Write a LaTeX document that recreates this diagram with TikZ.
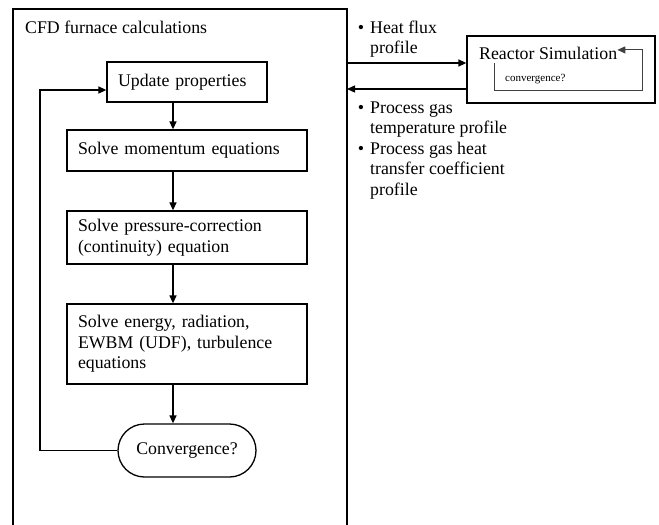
\documentclass[tikz,border=0pt]{standalone}
\usepackage{fontspec}
\setmainfont{Liberation Serif}
\usetikzlibrary{arrows.meta,calc,shapes.misc}

\begin{document}
\begin{tikzpicture}[x=1pt, y=-1pt, line join=miter, >={Triangle[length=8pt,width=7pt]}]
\tikzset{frame/.style={line width=1.3pt}, stepbox/.style={draw, line width=1.3pt, inner xsep=11pt, inner ysep=0pt, align=left, font=\fontsize{17.8}{20.5}\selectfont}, flow/.style={->, line width=1.3pt}, txt/.style={inner sep=0pt, align=left, font=\fontsize{17.8}{20.5}\selectfont}, smalltxt/.style={inner sep=0pt, font=\fontsize{11}{13}\selectfont}}
\useasboundingbox (0,0) rectangle (659,525);

% CFD frame (open at the bottom)
\coordinate (cfdTL) at (13,9);
\coordinate (cfdTR) at (347,9);
\draw[frame] (cfdTL |- 0,525) -- (cfdTL) -- (cfdTR) -- (cfdTR |- 0,525);
\node[txt, anchor=base west] (cfdtitle) at (25,33) {CFD furnace calculations};

% solver steps
\node[stepbox, text width=138pt, minimum height=40pt] (upd) at (187,82) {Update properties};
\node[stepbox, text width=218pt, minimum height=41pt] (mom) at (187,150.5) {Solve momentum equations};
\node[stepbox, text width=218pt, minimum height=53pt] (pres) at (187,237.5) {Solve pressure-correction\\(continuity) equation};
\node[stepbox, text width=218pt, minimum height=80pt] (energy) at (187,344) {Solve energy, radiation,\\EWBM (UDF), turbulence\\equations};
\node[stepbox, rounded rectangle, align=center, minimum width=160pt, minimum height=53pt] (conv) at (187,450.5) {Convergence?};

% arrows down the chain
\coordinate (spine) at (173,0);
\draw[flow] (upd.south -| spine) -- (mom.north -| spine);
\draw[flow] (mom.south -| spine) -- (pres.north -| spine);
\draw[flow] (pres.south -| spine) -- (energy.north -| spine);
\draw[flow] (energy.south -| spine) -- (conv.north -| spine);

% loop back
\coordinate (loopin) at ($(upd.west)+(0,8)$);
\draw[flow] (conv.west) -| (40,0 |- loopin) -- (loopin);

% reactor simulation
\node[draw, line width=1.3pt, minimum width=188pt, minimum height=67pt] (reac) at (561,69.5) {};
\node[txt, anchor=base west] (reactxt) at (479,59) {Reactor Simulation};
\node[smalltxt, anchor=base west] (rconv) at (505,81) {convergence?};
\coordinate (rloop) at (494,63);
\draw[flow, line width=1pt, draw=black!75] (rloop) |- (642,90) |- ($(reactxt.east)+(0,-3)$);

% exchange between the two codes
\coordinate (fluxout) at (347,63);
\coordinate (tin) at (347,89);
\draw[flow] (fluxout) -- (fluxout -| reac.west);
\draw[flow] (tin -| reac.west) -- (tin);

% exchanged profiles (first and last baselines)
\foreach \y/\ylast/\name/\lines in {33/53.5/flux/{Heat flux\\profile}, 113/133.5/tgas/{Process gas\\temperature profile}, 154/195/hgas/{Process gas heat\\transfer coefficient\\profile}}{
  \node[inner sep=0pt, font=\fontsize{18}{18}\selectfont, anchor=base] (\name b) at (361,\y) {\textbullet};
  \node[txt, anchor=base west] (\name) at (370,\ylast) {\lines};
}
\end{tikzpicture}
\end{document}
